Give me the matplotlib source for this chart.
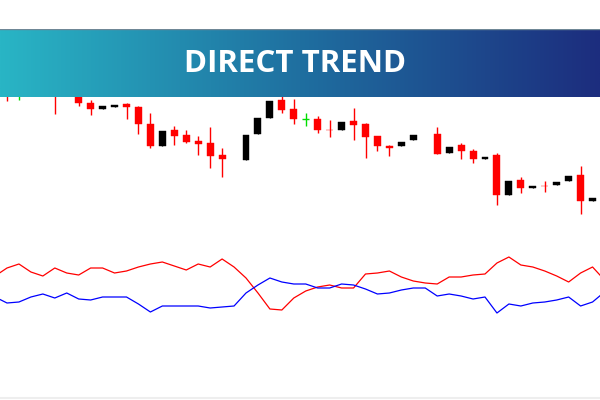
import numpy as np
import matplotlib
matplotlib.use("Agg")
from matplotlib import pyplot as plt
from matplotlib.colors import LinearSegmentedColormap

# candle data (nan = no candle at that slot)
opens = [215, 210, 225, 212, 218, 215, 208, 197, 191, 193, 196, 193, 176, 154, 170, 165, 159, 157, 145, np.nan,
         140, 166, 182, 200, 191, 181, 181, 170.5, 170, 179, 176, 164, 154, 154, 160, np.nan, 166, 147, 155, 149,
         141, 145, 105, 120, 112, 114.5, 115, 119, 125, 99]
highs = [222, 220, 230, 225, 224, 220, 212, 200, 194, 195, 197, 194, 187, 169, 174, 170, 164, 173, 152, np.nan,
         165, 182, 199, 206, 201, 187, 184, 180, 178, 192, 177, 164, 155, 158, 165, np.nan, 173, 153, 157, 151,
         143, 147, 119, 123, 114, 119, 118, 124, 134, 102]
lows = [199, 200, 210, 208, 186, 204, 194, 185, 191, 193, 181, 166, 152, 154, 155, 157, 145, 132, 123, np.nan,
        140, 166, 182, 187, 176, 174, 167, 163, 170, 160, 142, 149, 144, 154, 160, np.nan, 146, 147, 141, 137,
        141, 95, 105, 107, 112, 108, 115, 119, 86, 99]
closes = [208, 210, 215, 220, 208, 207, 197, 191, 194, 195, 193, 176, 154, 169, 164, 158, 156, 144, 141, np.nan,
          165, 182, 199, 190, 181, 181, 170, 170, 178, 175, 163, 154, 152, 158, 165, np.nan, 146, 153, 149, 141,
          143, 105, 119, 112, 114, 114, 118, 124, 99, 102]

# indicator lines, first point sits one slot before the first candle
red_line = [54, 62, 66, 58, 54, 62, 57, 55, 62, 62, 57, 59, 63, 66, 68, 64, 60, 66, 63, 71, 63, 52, 37, 21, 20, 32,
            39, 43, 45, 42, 42, 56, 57, 59, 53, 49, 47, 46, 53, 53, 55, 56, 67, 73, 65, 63, 59, 54, 48, 57, 63, 50]
blue_line = [33, 27, 28, 33, 36, 32, 37, 31, 30, 33, 33, 33, 26, 18, 24, 24, 24, 24, 22, 23, 24, 37, 45, 52, 48, 46,
             46, 42, 42, 46, 45, 41, 36, 37, 40, 42, 42, 34, 36, 34, 31, 33, 17, 26, 24, 27, 28, 30, 33, 24, 28, 38]

title = "DIRECT TREND"

W, H = 600, 400
fig = plt.figure(figsize=(6, 4), dpi=100)
fig.patch.set_facecolor("white")

step = 11.95
x0 = 7
xlim = ((0 - x0) / step, (W - x0) / step)

# price panel (top)
ax = fig.add_axes([0, 1 - 230 / H, 1, 230 / H])
ax.set_xlim(*xlim)
ax.set_ylim(70, 300)
ax.axis("off")

idx = np.arange(len(opens))
for i in idx:
    o, h, l, c = opens[i], highs[i], lows[i], closes[i]
    if np.isnan(o):
        continue
    if c > o:
        col = "#000000"
    elif c < o:
        col = "#ff0000"
    else:
        col = "#00dd00"
    ax.vlines(i, l, h, color=col, lw=1.0)
    if c == o:
        ax.hlines(c, i - 0.3, i + 0.3, color=col, lw=1.0)
    else:
        ax.bar(i, abs(c - o), bottom=min(o, c), width=0.58, color=col, edgecolor=col, lw=0.3)

# indicator panel (bottom)
ax2 = fig.add_axes([0, 0, 1, 170 / H])
ax2.set_xlim(*xlim)
ax2.set_ylim(-70, 100)
ax2.axis("off")
lx = np.arange(-1, len(red_line) - 1)
ax2.plot(lx, red_line, color="#ff0000", lw=0.9)
ax2.plot(lx, blue_line, color="#0000ff", lw=0.9)

# banner with gradient
bax = fig.add_axes([0, 1 - 97 / H, 1, 68 / H], zorder=5)
cmap = LinearSegmentedColormap.from_list("ban", ["#29b5c5", "#1f6fa0", "#1c2d7e"])
grad = np.linspace(0, 1, 256).reshape(1, -1)
bax.imshow(grad, aspect="auto", cmap=cmap, extent=[0, 1, 0, 1])
bax.set_xlim(0, 1)
bax.set_ylim(0, 1)
bax.axis("off")
bax.axhline(0.995, color="#6f8796", lw=1.0)
bax.text(295 / W, 0.48, title, color="white", fontsize=22.5, fontweight="bold",
         family="Open Sans", ha="center", va="center")

# faint bottom rule
fig.add_artist(plt.Line2D([0, 1], [2.5 / H, 2.5 / H], color="#eeeeee", lw=1.5))

fig.savefig("out.png", dpi=100, facecolor="white")
